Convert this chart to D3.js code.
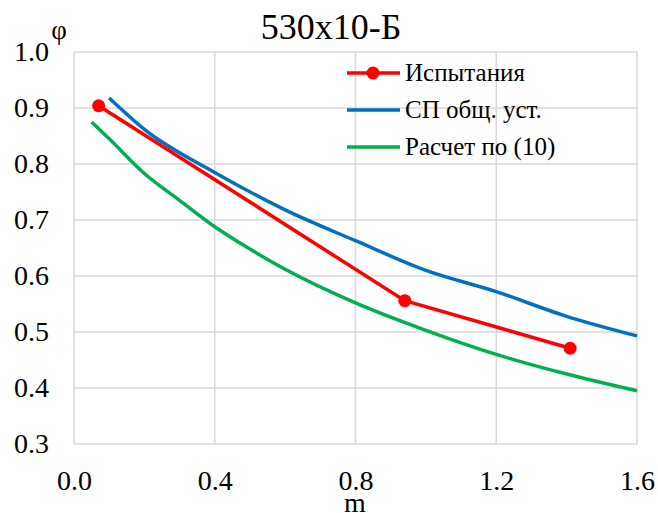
<!DOCTYPE html>
<html>
<head>
<meta charset="utf-8">
<script src="https://cdn.jsdelivr.net/npm/d3@7"></script>
<style>
  body { margin: 0; background: #fff; }
  svg, svg text { font-family: 'Liberation Serif', 'DejaVu Serif', serif; }
</style>
</head>
<body>
<div id="vis"></div>
<script>
// data
const testM = [0.07, 0.94, 1.41]
const testPhi = [0.904, 0.556, 0.471]

const spM = [0.1, 0.2, 0.4, 0.6, 0.8, 1.0, 1.2, 1.4, 1.6]
const spPhi = [0.918, 0.862, 0.785, 0.718, 0.663, 0.61, 0.572, 0.528, 0.493]

const calcM = [0.05, 0.1, 0.2, 0.3, 0.4, 0.5, 0.6, 0.8, 1.0, 1.2, 1.4, 1.6]
const calcPhi = [0.875, 0.845, 0.783, 0.735, 0.688, 0.648, 0.612, 0.552, 0.503, 0.46, 0.425, 0.395]

const xTicks = [0.0, 0.4, 0.8, 1.2, 1.6]
const yTicks = [0.3, 0.4, 0.5, 0.6, 0.7, 0.8, 0.9, 1.0]

const seriesNames = ['Испытания', 'СП общ. уст.', 'Расчет по (10)']
const seriesColors = ['#ff0000', '#0070c0', '#00b050']

;(function() {
  const svg_width = 658,
        svg_height = 513,
        serif = "'Liberation Serif', 'DejaVu Serif', serif",
        svg = d3.select('#vis').append('svg')

  svg.attr('width', svg_width)
    .attr('height', svg_height)
    .attr('font-family', serif)

  const x = d3.scaleLinear().domain([0, 1.6]).range([74, 637])
  const y = d3.scaleLinear().domain([0.3, 1.0]).range([444, 52])

  // grid
  const grid = svg.append('g').attr('class', 'grid')
  grid.selectAll('line.h').data(yTicks).enter().append('line')
    .attr('x1', x(0)).attr('x2', x(1.6))
    .attr('y1', d => y(d)).attr('y2', d => y(d))
    .attr('stroke', '#d9d9d9').attr('stroke-width', 1.5)
  grid.selectAll('line.v').data(xTicks).enter().append('line')
    .attr('y1', y(0.3)).attr('y2', y(1.0))
    .attr('x1', d => x(d)).attr('x2', d => x(d))
    .attr('stroke', '#d9d9d9').attr('stroke-width', 1.5)

  // axes (labels only)
  const xAxis = svg.append('g')
    .attr('transform', `translate(0,${y(0.3)})`)
    .call(d3.axisBottom(x).tickValues(xTicks).tickFormat(d3.format('.1f')).tickSize(0).tickPadding(26))
  const yAxis = svg.append('g')
    .attr('transform', `translate(${x(0)},0)`)
    .call(d3.axisLeft(y).tickValues(yTicks).tickFormat(d3.format('.1f')).tickSize(0).tickPadding(25))
  ;[xAxis, yAxis].forEach(a => {
    a.attr('font-family', serif).attr('font-size', 28)
    a.select('.domain').remove()
    a.selectAll('text')
      .attr('font-family', serif)
      .attr('font-size', 28)
      .attr('fill', '#000')
  })

  // title and axis names
  svg.append('text')
    .attr('x', 331).attr('y', 39)
    .attr('text-anchor', 'middle')
    .attr('font-size', 36)
    .text('530x10-Б')

  svg.append('text')
    .attr('x', 59).attr('y', 39)
    .attr('text-anchor', 'middle')
    .attr('font-size', 27)
    .text('φ')

  svg.append('text')
    .attr('x', 355).attr('y', 512)
    .attr('text-anchor', 'middle')
    .attr('font-size', 28)
    .text('m')

  // lines
  const line = d3.line().x(d => x(d[0])).y(d => y(d[1]))
  const smooth = d3.line().x(d => x(d[0])).y(d => y(d[1])).curve(d3.curveMonotoneX)

  const calcData = calcM.map((m, i) => [m, calcPhi[i]])
  const spData = spM.map((m, i) => [m, spPhi[i]])
  const testData = testM.map((m, i) => [m, testPhi[i]])

  svg.append('path').datum(calcData)
    .attr('d', smooth).attr('fill', 'none')
    .attr('stroke', seriesColors[2]).attr('stroke-width', 3.5)

  svg.append('path').datum(spData)
    .attr('d', smooth).attr('fill', 'none')
    .attr('stroke', seriesColors[1]).attr('stroke-width', 3.5)

  svg.append('path').datum(testData)
    .attr('d', line).attr('fill', 'none')
    .attr('stroke', seriesColors[0]).attr('stroke-width', 3.5)

  svg.selectAll('circle.pt').data(testData).enter().append('circle')
    .attr('cx', d => x(d[0])).attr('cy', d => y(d[1]))
    .attr('r', 6.5).attr('fill', seriesColors[0])

  // legend
  const legend = svg.append('g').attr('class', 'legend')
  const ly = [73, 110, 147]
  seriesNames.forEach((name, i) => {
    legend.append('line')
      .attr('x1', 347).attr('x2', 400)
      .attr('y1', ly[i]).attr('y2', ly[i])
      .attr('stroke', seriesColors[i]).attr('stroke-width', 3.5)
    if (i === 0) {
      legend.append('circle')
        .attr('cx', 373).attr('cy', ly[i]).attr('r', 6.5)
        .attr('fill', seriesColors[i])
    }
    legend.append('text')
      .attr('x', 405).attr('y', ly[i] + 8)
      .attr('font-size', 25)
      .text(name)
  })
}())
</script>
</body>
</html>
